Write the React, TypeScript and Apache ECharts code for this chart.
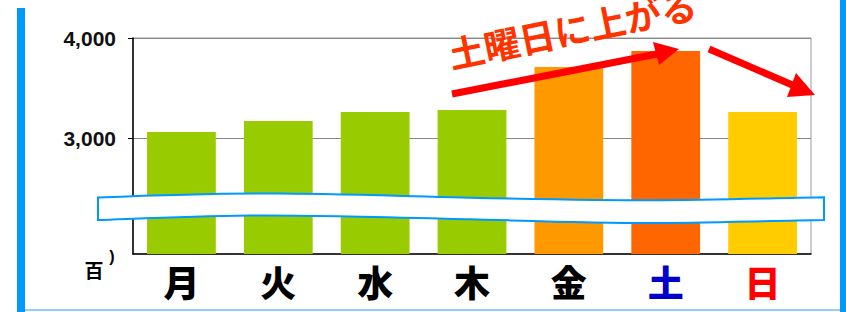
import React, { useEffect, useRef } from "react";
import * as echarts from "echarts";

const days = ["月", "火", "水", "木", "金", "土", "日"];
const visitors = [3060, 3170, 3260, 3280, 3710, 3870, 3260];
const yTickValues = [3000, 4000];
const axisMin = 1840;
const axisMax = 4000;
const annotation = "土曜日に上がる";
const unitLabel = "百";

const barColors = ["#99cc00", "#99cc00", "#99cc00", "#99cc00", "#ff9900", "#ff6600", "#ffcc00"];
const labelColors: Record<string, string> = { "土": "#0000cc", "日": "#ff0000" };

const breakPath =
  "M98,197.5 C160,195 220,193 280,193.5 C350,194 420,196.5 470,197.7 C560,199.5 600,200.3 650,200.3 C720,200 780,198 824,197.3 L824,220 C760,221 700,223 650,223 C590,223 520,220.5 470,219.3 C380,217 310,215 250,215.5 C180,216.5 130,219 98,220 Z";

let registered = false;

export default function App() {
  const ref = useRef<HTMLDivElement>(null);
  useEffect(() => {
    if (!ref.current) return;
    if (!registered) {
      echarts.graphic.registerShape("breakband", echarts.graphic.extendPath(breakPath, {}));
      registered = true;
    }
    const chart = echarts.init(ref.current, null, { renderer: "svg" });
    const rot = (11.6 * Math.PI) / 180;
    chart.setOption({
      animation: false,
      backgroundColor: "#ffffff",
      grid: {
        left: 133,
        right: 35,
        top: 38,
        bottom: 58,
        show: true,
        borderColor: "#999999",
        borderWidth: 1,
        backgroundColor: "transparent",
      },
      xAxis: {
        type: "category",
        data: days.map((d) => ({
          value: d,
          textStyle: { color: labelColors[d] || "#000000" },
        })),
        axisLine: { lineStyle: { color: "#000000", width: 1.5 } },
        axisTick: { inside: true, length: 5, lineStyle: { color: "#000000" } },
        axisLabel: {
          fontFamily: "Noto Sans CJK JP",
          fontWeight: 900,
          fontSize: 36,
          margin: 9,
          color: "#000000",
        },
      },
      yAxis: {
        type: "value",
        min: axisMin,
        max: axisMax,
        axisLine: { show: true, lineStyle: { color: "#000000", width: 1.5 } },
        axisTick: {
          show: true,
          length: 5,
          customValues: yTickValues,
          lineStyle: { color: "#000000" },
        },
        axisLabel: {
          customValues: yTickValues,
          margin: 17,
          fontFamily: "Liberation Sans",
          fontWeight: "bold",
          fontSize: 21,
          color: "#111111",
          formatter: (v: number) => v.toLocaleString("en-US"),
        },
        splitLine: { show: true, lineStyle: { color: "#888888", width: 1 } },
      },
      series: [
        {
          type: "bar",
          barWidth: "71%",
          data: visitors.map((v, i) => ({ value: v, itemStyle: { color: barColors[i] } })),
        },
      ],
      graphic: [
        { type: "rect", shape: { x: 17, y: 8, width: 8, height: 304 }, style: { fill: "#0099ff" } },
        { type: "rect", shape: { x: 840, y: 0, width: 6, height: 312 }, style: { fill: "#0099ff" } },
        { type: "rect", shape: { x: 25, y: 309, width: 815, height: 2 }, style: { fill: "#99ccff" } },
        {
          type: "breakband",
          x: 0,
          y: 0,
          z: 100,
          style: { fill: "#ffffff", stroke: "#0099ff", lineWidth: 2 },
        },
        {
          type: "text",
          x: 94,
          y: 269,
          z: 100,
          style: {
            text: unitLabel,
            fontFamily: "Noto Sans CJK JP",
            fontWeight: "bold",
            fontSize: 19,
            fill: "#000000",
            align: "center",
            verticalAlign: "middle",
          },
        },
        {
          type: "text",
          x: 112,
          y: 256,
          z: 100,
          style: {
            text: ")",
            fontFamily: "Liberation Sans",
            fontWeight: "bold",
            fontSize: 16,
            fill: "#000000",
            align: "center",
            verticalAlign: "middle",
          },
        },
        {
          type: "text",
          x: 572,
          y: 28,
          rotation: rot,
          z: 100,
          style: {
            text: annotation,
            fontFamily: "Noto Sans CJK JP",
            fontWeight: "bold",
            fontSize: 36,
            fill: "#ff3300",
            align: "center",
            verticalAlign: "middle",
          },
        },
        {
          type: "line",
          z: 100,
          shape: { x1: 452, y1: 94, x2: 662, y2: 53 },
          style: { stroke: "#ff0000", lineWidth: 7 },
        },
        {
          type: "polygon",
          z: 100,
          shape: { points: [[653, 42], [679, 49], [659, 65]] },
          style: { fill: "#ff0000" },
        },
        {
          type: "line",
          z: 100,
          shape: { x1: 709, y1: 49, x2: 797, y2: 87 },
          style: { stroke: "#ff0000", lineWidth: 7 },
        },
        {
          type: "polygon",
          z: 100,
          shape: { points: [[796, 73], [815, 95], [787, 97]] },
          style: { fill: "#ff0000" },
        },
      ],
    });
    return () => chart.dispose();
  }, []);
  return (
    <div
      ref={ref}
      style={{ position: "fixed", left: 0, top: 0, width: 846, height: 312 }}
    />
  );
}
